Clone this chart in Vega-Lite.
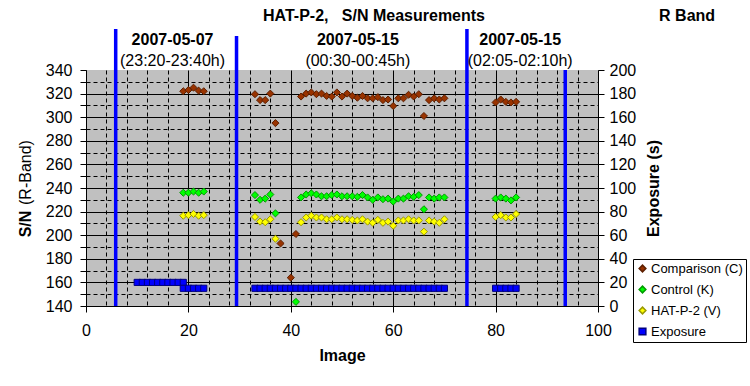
{
  "$schema": "https://vega.github.io/schema/vega-lite/v6.json",
  "width": 512,
  "height": 236,
  "autosize": {"type": "none"},
  "padding": {"left": 86, "top": 70, "right": 152, "bottom": 80},
  "background": "white",
  "config": {
    "font": "Liberation Sans",
    "view": {"fill": "#C0C0C0", "stroke": null},
    "axis": {
      "domainColor": "black", "tickColor": "black", "gridColor": "black",
      "labelFont": "Liberation Sans", "labelFontSize": 16, "labelColor": "black",
      "titleFont": "Liberation Sans", "titleFontSize": 16, "titleColor": "black", "titleFontWeight": "bold",
      "labelOverlap": false, "labelFlush": false
    },
    "text": {"font": "Liberation Sans", "fontSize": 16, "color": "black"}
  },
  "datasets": {
    "separators": [
      {"image": 5.8, "top": 374.7, "bottom": 140},
      {"image": 29.4, "top": 368.8, "bottom": 140},
      {"image": 74.4, "top": 374.7, "bottom": 140},
      {"image": 93.6, "top": 340, "bottom": 140}
    ],
    "labels": [
      {"image": 56.25, "value": 385.8, "text": "HAT-P-2,\u00a0\u00a0 S/N Measurements", "kind": "title"},
      {"image": 117.4, "value": 385.8, "text": "R Band", "kind": "title"},
      {"image": 16.9, "value": 365.4, "text": "2007-05-07", "kind": "date"},
      {"image": 16.9, "value": 347.6, "text": "(23:20-23:40h)", "kind": "time"},
      {"image": 53.1, "value": 365.4, "text": "2007-05-15", "kind": "date"},
      {"image": 53.1, "value": 347.6, "text": "(00:30-00:45h)", "kind": "time"},
      {"image": 84.8, "value": 365.4, "text": "2007-05-15", "kind": "date"},
      {"image": 84.8, "value": 347.6, "text": "(02:05-02:10h)", "kind": "time"},
      {"image": -11.7, "value": 209.5, "text": "S/N", "kind": "ytitle_bold"},
      {"image": -11.7, "value": 253.1, "text": "(R-Band)", "kind": "ytitle"}
    ],
    "measurements": [
      {"image": 19, "series": "Comparison (C)", "value": 322},
      {"image": 20, "series": "Comparison (C)", "value": 323},
      {"image": 21, "series": "Comparison (C)", "value": 325},
      {"image": 22, "series": "Comparison (C)", "value": 322.5},
      {"image": 23, "series": "Comparison (C)", "value": 322},
      {"image": 33, "series": "Comparison (C)", "value": 319.5},
      {"image": 34, "series": "Comparison (C)", "value": 314.5},
      {"image": 35, "series": "Comparison (C)", "value": 314.5},
      {"image": 36, "series": "Comparison (C)", "value": 320},
      {"image": 37, "series": "Comparison (C)", "value": 295},
      {"image": 38, "series": "Comparison (C)", "value": 193},
      {"image": 40, "series": "Comparison (C)", "value": 164},
      {"image": 41, "series": "Comparison (C)", "value": 201},
      {"image": 42, "series": "Comparison (C)", "value": 317.5},
      {"image": 43, "series": "Comparison (C)", "value": 320},
      {"image": 44, "series": "Comparison (C)", "value": 321},
      {"image": 45, "series": "Comparison (C)", "value": 319.5},
      {"image": 46, "series": "Comparison (C)", "value": 320},
      {"image": 47, "series": "Comparison (C)", "value": 318},
      {"image": 48, "series": "Comparison (C)", "value": 317.5},
      {"image": 49, "series": "Comparison (C)", "value": 321},
      {"image": 50, "series": "Comparison (C)", "value": 317.5},
      {"image": 51, "series": "Comparison (C)", "value": 320},
      {"image": 52, "series": "Comparison (C)", "value": 318},
      {"image": 53, "series": "Comparison (C)", "value": 316.5},
      {"image": 54, "series": "Comparison (C)", "value": 318},
      {"image": 55, "series": "Comparison (C)", "value": 316},
      {"image": 56, "series": "Comparison (C)", "value": 316},
      {"image": 57, "series": "Comparison (C)", "value": 317},
      {"image": 58, "series": "Comparison (C)", "value": 314.5},
      {"image": 59, "series": "Comparison (C)", "value": 315},
      {"image": 60, "series": "Comparison (C)", "value": 309.5},
      {"image": 61, "series": "Comparison (C)", "value": 316},
      {"image": 62, "series": "Comparison (C)", "value": 316},
      {"image": 63, "series": "Comparison (C)", "value": 319},
      {"image": 64, "series": "Comparison (C)", "value": 317.5},
      {"image": 65, "series": "Comparison (C)", "value": 319.5},
      {"image": 66, "series": "Comparison (C)", "value": 301},
      {"image": 67, "series": "Comparison (C)", "value": 314.5},
      {"image": 68, "series": "Comparison (C)", "value": 316},
      {"image": 69, "series": "Comparison (C)", "value": 315},
      {"image": 70, "series": "Comparison (C)", "value": 316},
      {"image": 80, "series": "Comparison (C)", "value": 312.5},
      {"image": 81, "series": "Comparison (C)", "value": 315},
      {"image": 82, "series": "Comparison (C)", "value": 313},
      {"image": 83, "series": "Comparison (C)", "value": 312.5},
      {"image": 84, "series": "Comparison (C)", "value": 313},
      {"image": 19, "series": "Control (K)", "value": 236},
      {"image": 20, "series": "Control (K)", "value": 236},
      {"image": 21, "series": "Control (K)", "value": 237},
      {"image": 22, "series": "Control (K)", "value": 236},
      {"image": 23, "series": "Control (K)", "value": 237},
      {"image": 33, "series": "Control (K)", "value": 234},
      {"image": 34, "series": "Control (K)", "value": 230},
      {"image": 35, "series": "Control (K)", "value": 231},
      {"image": 36, "series": "Control (K)", "value": 234.5},
      {"image": 37, "series": "Control (K)", "value": 218.5},
      {"image": 41, "series": "Control (K)", "value": 143.5},
      {"image": 42, "series": "Control (K)", "value": 232},
      {"image": 43, "series": "Control (K)", "value": 234.5},
      {"image": 44, "series": "Control (K)", "value": 235.5},
      {"image": 45, "series": "Control (K)", "value": 234.5},
      {"image": 46, "series": "Control (K)", "value": 233},
      {"image": 47, "series": "Control (K)", "value": 233},
      {"image": 48, "series": "Control (K)", "value": 234},
      {"image": 49, "series": "Control (K)", "value": 234.5},
      {"image": 50, "series": "Control (K)", "value": 233},
      {"image": 51, "series": "Control (K)", "value": 233},
      {"image": 52, "series": "Control (K)", "value": 233},
      {"image": 53, "series": "Control (K)", "value": 232.5},
      {"image": 54, "series": "Control (K)", "value": 234},
      {"image": 55, "series": "Control (K)", "value": 232},
      {"image": 56, "series": "Control (K)", "value": 230},
      {"image": 57, "series": "Control (K)", "value": 232},
      {"image": 58, "series": "Control (K)", "value": 230.5},
      {"image": 59, "series": "Control (K)", "value": 231},
      {"image": 60, "series": "Control (K)", "value": 228.5},
      {"image": 61, "series": "Control (K)", "value": 231},
      {"image": 62, "series": "Control (K)", "value": 231},
      {"image": 63, "series": "Control (K)", "value": 233},
      {"image": 64, "series": "Control (K)", "value": 232.5},
      {"image": 65, "series": "Control (K)", "value": 234},
      {"image": 66, "series": "Control (K)", "value": 222},
      {"image": 67, "series": "Control (K)", "value": 232},
      {"image": 68, "series": "Control (K)", "value": 231},
      {"image": 69, "series": "Control (K)", "value": 232},
      {"image": 70, "series": "Control (K)", "value": 232},
      {"image": 80, "series": "Control (K)", "value": 231},
      {"image": 81, "series": "Control (K)", "value": 232},
      {"image": 82, "series": "Control (K)", "value": 231},
      {"image": 83, "series": "Control (K)", "value": 229.5},
      {"image": 84, "series": "Control (K)", "value": 232},
      {"image": 19, "series": "HAT-P-2 (V)", "value": 216.5},
      {"image": 20, "series": "HAT-P-2 (V)", "value": 217},
      {"image": 21, "series": "HAT-P-2 (V)", "value": 218},
      {"image": 22, "series": "HAT-P-2 (V)", "value": 216.5},
      {"image": 23, "series": "HAT-P-2 (V)", "value": 217},
      {"image": 33, "series": "HAT-P-2 (V)", "value": 215.5},
      {"image": 34, "series": "HAT-P-2 (V)", "value": 211.5},
      {"image": 35, "series": "HAT-P-2 (V)", "value": 211},
      {"image": 36, "series": "HAT-P-2 (V)", "value": 213.5},
      {"image": 37, "series": "HAT-P-2 (V)", "value": 197},
      {"image": 42, "series": "HAT-P-2 (V)", "value": 211},
      {"image": 43, "series": "HAT-P-2 (V)", "value": 215},
      {"image": 44, "series": "HAT-P-2 (V)", "value": 216.5},
      {"image": 45, "series": "HAT-P-2 (V)", "value": 215},
      {"image": 46, "series": "HAT-P-2 (V)", "value": 215},
      {"image": 47, "series": "HAT-P-2 (V)", "value": 213.5},
      {"image": 48, "series": "HAT-P-2 (V)", "value": 213.5},
      {"image": 49, "series": "HAT-P-2 (V)", "value": 215},
      {"image": 50, "series": "HAT-P-2 (V)", "value": 213.5},
      {"image": 51, "series": "HAT-P-2 (V)", "value": 213.5},
      {"image": 52, "series": "HAT-P-2 (V)", "value": 213},
      {"image": 53, "series": "HAT-P-2 (V)", "value": 212.5},
      {"image": 54, "series": "HAT-P-2 (V)", "value": 213.5},
      {"image": 55, "series": "HAT-P-2 (V)", "value": 211.5},
      {"image": 56, "series": "HAT-P-2 (V)", "value": 210.5},
      {"image": 57, "series": "HAT-P-2 (V)", "value": 213},
      {"image": 58, "series": "HAT-P-2 (V)", "value": 210.5},
      {"image": 59, "series": "HAT-P-2 (V)", "value": 211.5},
      {"image": 60, "series": "HAT-P-2 (V)", "value": 208},
      {"image": 61, "series": "HAT-P-2 (V)", "value": 212.5},
      {"image": 62, "series": "HAT-P-2 (V)", "value": 212.5},
      {"image": 63, "series": "HAT-P-2 (V)", "value": 213.5},
      {"image": 64, "series": "HAT-P-2 (V)", "value": 212.5},
      {"image": 65, "series": "HAT-P-2 (V)", "value": 212.5},
      {"image": 66, "series": "HAT-P-2 (V)", "value": 203},
      {"image": 67, "series": "HAT-P-2 (V)", "value": 212.5},
      {"image": 68, "series": "HAT-P-2 (V)", "value": 211.5},
      {"image": 69, "series": "HAT-P-2 (V)", "value": 210.5},
      {"image": 70, "series": "HAT-P-2 (V)", "value": 213.5},
      {"image": 80, "series": "HAT-P-2 (V)", "value": 215.5},
      {"image": 81, "series": "HAT-P-2 (V)", "value": 217},
      {"image": 82, "series": "HAT-P-2 (V)", "value": 215},
      {"image": 83, "series": "HAT-P-2 (V)", "value": 215},
      {"image": 84, "series": "HAT-P-2 (V)", "value": 218},
      {"image": 10, "series": "Exposure", "value": 20},
      {"image": 11, "series": "Exposure", "value": 20},
      {"image": 12, "series": "Exposure", "value": 20},
      {"image": 13, "series": "Exposure", "value": 20},
      {"image": 14, "series": "Exposure", "value": 20},
      {"image": 15, "series": "Exposure", "value": 20},
      {"image": 16, "series": "Exposure", "value": 20},
      {"image": 17, "series": "Exposure", "value": 20},
      {"image": 18, "series": "Exposure", "value": 20},
      {"image": 19, "series": "Exposure", "value": 20},
      {"image": 19, "series": "Exposure", "value": 15},
      {"image": 20, "series": "Exposure", "value": 15},
      {"image": 21, "series": "Exposure", "value": 15},
      {"image": 22, "series": "Exposure", "value": 15},
      {"image": 23, "series": "Exposure", "value": 15},
      {"image": 33, "series": "Exposure", "value": 15},
      {"image": 34, "series": "Exposure", "value": 15},
      {"image": 35, "series": "Exposure", "value": 15},
      {"image": 36, "series": "Exposure", "value": 15},
      {"image": 37, "series": "Exposure", "value": 15},
      {"image": 38, "series": "Exposure", "value": 15},
      {"image": 39, "series": "Exposure", "value": 15},
      {"image": 40, "series": "Exposure", "value": 15},
      {"image": 41, "series": "Exposure", "value": 15},
      {"image": 42, "series": "Exposure", "value": 15},
      {"image": 43, "series": "Exposure", "value": 15},
      {"image": 44, "series": "Exposure", "value": 15},
      {"image": 45, "series": "Exposure", "value": 15},
      {"image": 46, "series": "Exposure", "value": 15},
      {"image": 47, "series": "Exposure", "value": 15},
      {"image": 48, "series": "Exposure", "value": 15},
      {"image": 49, "series": "Exposure", "value": 15},
      {"image": 50, "series": "Exposure", "value": 15},
      {"image": 51, "series": "Exposure", "value": 15},
      {"image": 52, "series": "Exposure", "value": 15},
      {"image": 53, "series": "Exposure", "value": 15},
      {"image": 54, "series": "Exposure", "value": 15},
      {"image": 55, "series": "Exposure", "value": 15},
      {"image": 56, "series": "Exposure", "value": 15},
      {"image": 57, "series": "Exposure", "value": 15},
      {"image": 58, "series": "Exposure", "value": 15},
      {"image": 59, "series": "Exposure", "value": 15},
      {"image": 60, "series": "Exposure", "value": 15},
      {"image": 61, "series": "Exposure", "value": 15},
      {"image": 62, "series": "Exposure", "value": 15},
      {"image": 63, "series": "Exposure", "value": 15},
      {"image": 64, "series": "Exposure", "value": 15},
      {"image": 65, "series": "Exposure", "value": 15},
      {"image": 66, "series": "Exposure", "value": 15},
      {"image": 67, "series": "Exposure", "value": 15},
      {"image": 68, "series": "Exposure", "value": 15},
      {"image": 69, "series": "Exposure", "value": 15},
      {"image": 70, "series": "Exposure", "value": 15},
      {"image": 80, "series": "Exposure", "value": 15},
      {"image": 81, "series": "Exposure", "value": 15},
      {"image": 82, "series": "Exposure", "value": 15},
      {"image": 83, "series": "Exposure", "value": 15},
      {"image": 84, "series": "Exposure", "value": 15}
    ]
  },
  "layer": [
    {
      "layer": [
        {
          "data": {"name": "measurements"},
          "transform": [{"filter": "datum.series !== 'Exposure'"}],
          "mark": {"type": "point", "filled": true, "size": 50, "strokeWidth": 1, "opacity": 1},
          "encoding": {
            "x": {"field": "image", "type": "quantitative", "scale": {"domain": [0, 100], "nice": false},
              "axis": {"values": [0, 4, 8, 12, 16, 20, 24, 28, 32, 36, 40, 44, 48, 52, 56, 60, 64, 68, 72, 76, 80, 84, 88, 92, 96, 100], "labelExpr": "datum.value % 20 === 0 ? datum.label : ''", "labelOverlap": false, "labelFlush": false, "grid": true, "gridDash": {"condition": {"test": "datum.value % 20 === 0", "value": []}, "value": [4, 3]}, "gridWidth": 1, "tickSize": 6, "tickOpacity": {"condition": {"test": "datum.value % 20 === 0", "value": 1}, "value": 0}, "labelPadding": 10, "title": "Image", "titlePadding": 9}},
            "y": {"field": "value", "type": "quantitative", "scale": {"domain": [140, 340], "nice": false},
              "axis": {"values": [140, 150, 160, 170, 180, 190, 200, 210, 220, 230, 240, 250, 260, 270, 280, 290, 300, 310, 320, 330, 340], "labelExpr": "datum.value % 20 === 0 ? datum.label : ''", "labelOverlap": false, "labelFlush": false, "grid": true, "gridDash": {"condition": {"test": "datum.value % 20 === 0", "value": []}, "value": [4, 3]}, "gridOpacity": {"condition": {"test": "datum.value >= 340", "value": 0}, "value": 1}, "gridWidth": 1, "tickSize": 6, "labelPadding": 8, "title": null}},
            "color": {
              "field": "series", "type": "nominal",
              "scale": {"domain": ["Comparison (C)", "Control (K)", "HAT-P-2 (V)", "Exposure"], "range": ["#993300", "#00FF00", "#FFFF00", "#0000FF"]},
              "legend": {"title": null, "orient": "none", "legendX": 547, "legendY": 189, "strokeColor": "black", "fillColor": "white", "padding": 3, "labelFont": "Liberation Sans", "labelFontSize": 13, "labelColor": "black", "rowPadding": 7, "symbolSize": 45, "labelOffset": 2, "cornerRadius": 0,
                "encode": {"symbols": {"update": {"stroke": {"value": "#333333"}, "strokeWidth": {"value": 1}}}}}
            },
            "shape": {
              "field": "series", "type": "nominal",
              "scale": {"domain": ["Comparison (C)", "Control (K)", "HAT-P-2 (V)", "Exposure"], "range": ["diamond", "diamond", "diamond", "square"]},
              "legend": {"title": null, "orient": "none", "legendX": 547, "legendY": 189, "strokeColor": "black", "fillColor": "white", "padding": 3, "labelFont": "Liberation Sans", "labelFontSize": 13, "labelColor": "black", "rowPadding": 7, "symbolSize": 45, "labelOffset": 2, "cornerRadius": 0,
                "encode": {"symbols": {"update": {"stroke": {"value": "#333333"}, "strokeWidth": {"value": 1}}}}}
            },
            "stroke": {
              "field": "series", "type": "nominal",
              "scale": {"domain": ["Comparison (C)", "Control (K)", "HAT-P-2 (V)", "Exposure"], "range": ["#5c1f00", "#009900", "#999900", "#000080"]},
              "legend": null
            }
          }
        },
        {
          "data": {"name": "separators"},
          "mark": {"type": "rule", "color": "#0000FF", "strokeWidth": 3.5},
          "encoding": {
            "x": {"field": "image", "type": "quantitative", "scale": {"domain": [0, 100], "nice": false},
              "axis": {"values": [0, 4, 8, 12, 16, 20, 24, 28, 32, 36, 40, 44, 48, 52, 56, 60, 64, 68, 72, 76, 80, 84, 88, 92, 96, 100], "labelExpr": "datum.value % 20 === 0 ? datum.label : ''", "labelOverlap": false, "labelFlush": false, "grid": true, "gridDash": {"condition": {"test": "datum.value % 20 === 0", "value": []}, "value": [4, 3]}, "gridWidth": 1, "tickSize": 6, "tickOpacity": {"condition": {"test": "datum.value % 20 === 0", "value": 1}, "value": 0}, "labelPadding": 10, "title": "Image", "titlePadding": 9}},
            "y": {"field": "top", "type": "quantitative", "scale": {"domain": [140, 340], "nice": false},
              "axis": {"values": [140, 150, 160, 170, 180, 190, 200, 210, 220, 230, 240, 250, 260, 270, 280, 290, 300, 310, 320, 330, 340], "labelExpr": "datum.value % 20 === 0 ? datum.label : ''", "labelOverlap": false, "labelFlush": false, "grid": true, "gridDash": {"condition": {"test": "datum.value % 20 === 0", "value": []}, "value": [4, 3]}, "gridOpacity": {"condition": {"test": "datum.value >= 340", "value": 0}, "value": 1}, "gridWidth": 1, "tickSize": 6, "labelPadding": 8, "title": null}},
            "y2": {"field": "bottom"}
          }
        },
        {
          "data": {"name": "labels"},
          "transform": [{"filter": "datum.kind === 'title' || datum.kind === 'date'"}],
          "mark": {"type": "text", "fontWeight": "bold", "align": "center", "baseline": "middle"},
          "encoding": {
            "x": {"field": "image", "type": "quantitative", "scale": {"domain": [0, 100], "nice": false},
              "axis": {"values": [0, 4, 8, 12, 16, 20, 24, 28, 32, 36, 40, 44, 48, 52, 56, 60, 64, 68, 72, 76, 80, 84, 88, 92, 96, 100], "labelExpr": "datum.value % 20 === 0 ? datum.label : ''", "labelOverlap": false, "labelFlush": false, "grid": true, "gridDash": {"condition": {"test": "datum.value % 20 === 0", "value": []}, "value": [4, 3]}, "gridWidth": 1, "tickSize": 6, "tickOpacity": {"condition": {"test": "datum.value % 20 === 0", "value": 1}, "value": 0}, "labelPadding": 10, "title": "Image", "titlePadding": 9}},
            "y": {"field": "value", "type": "quantitative", "scale": {"domain": [140, 340], "nice": false},
              "axis": {"values": [140, 150, 160, 170, 180, 190, 200, 210, 220, 230, 240, 250, 260, 270, 280, 290, 300, 310, 320, 330, 340], "labelExpr": "datum.value % 20 === 0 ? datum.label : ''", "labelOverlap": false, "labelFlush": false, "grid": true, "gridDash": {"condition": {"test": "datum.value % 20 === 0", "value": []}, "value": [4, 3]}, "gridOpacity": {"condition": {"test": "datum.value >= 340", "value": 0}, "value": 1}, "gridWidth": 1, "tickSize": 6, "labelPadding": 8, "title": null}},
            "text": {"field": "text"}
          }
        },
        {
          "data": {"name": "labels"},
          "transform": [{"filter": "datum.kind === 'time'"}],
          "mark": {"type": "text", "fontWeight": "normal", "align": "center", "baseline": "middle"},
          "encoding": {
            "x": {"field": "image", "type": "quantitative", "scale": {"domain": [0, 100], "nice": false},
              "axis": {"values": [0, 4, 8, 12, 16, 20, 24, 28, 32, 36, 40, 44, 48, 52, 56, 60, 64, 68, 72, 76, 80, 84, 88, 92, 96, 100], "labelExpr": "datum.value % 20 === 0 ? datum.label : ''", "labelOverlap": false, "labelFlush": false, "grid": true, "gridDash": {"condition": {"test": "datum.value % 20 === 0", "value": []}, "value": [4, 3]}, "gridWidth": 1, "tickSize": 6, "tickOpacity": {"condition": {"test": "datum.value % 20 === 0", "value": 1}, "value": 0}, "labelPadding": 10, "title": "Image", "titlePadding": 9}},
            "y": {"field": "value", "type": "quantitative", "scale": {"domain": [140, 340], "nice": false},
              "axis": {"values": [140, 150, 160, 170, 180, 190, 200, 210, 220, 230, 240, 250, 260, 270, 280, 290, 300, 310, 320, 330, 340], "labelExpr": "datum.value % 20 === 0 ? datum.label : ''", "labelOverlap": false, "labelFlush": false, "grid": true, "gridDash": {"condition": {"test": "datum.value % 20 === 0", "value": []}, "value": [4, 3]}, "gridOpacity": {"condition": {"test": "datum.value >= 340", "value": 0}, "value": 1}, "gridWidth": 1, "tickSize": 6, "labelPadding": 8, "title": null}},
            "text": {"field": "text"}
          }
        },
        {
          "data": {"name": "labels"},
          "transform": [{"filter": "datum.kind === 'ytitle_bold'"}],
          "mark": {"type": "text", "fontWeight": "bold", "align": "center", "baseline": "middle", "angle": 270},
          "encoding": {
            "x": {"field": "image", "type": "quantitative", "scale": {"domain": [0, 100], "nice": false},
              "axis": {"values": [0, 4, 8, 12, 16, 20, 24, 28, 32, 36, 40, 44, 48, 52, 56, 60, 64, 68, 72, 76, 80, 84, 88, 92, 96, 100], "labelExpr": "datum.value % 20 === 0 ? datum.label : ''", "labelOverlap": false, "labelFlush": false, "grid": true, "gridDash": {"condition": {"test": "datum.value % 20 === 0", "value": []}, "value": [4, 3]}, "gridWidth": 1, "tickSize": 6, "tickOpacity": {"condition": {"test": "datum.value % 20 === 0", "value": 1}, "value": 0}, "labelPadding": 10, "title": "Image", "titlePadding": 9}},
            "y": {"field": "value", "type": "quantitative", "scale": {"domain": [140, 340], "nice": false},
              "axis": {"values": [140, 150, 160, 170, 180, 190, 200, 210, 220, 230, 240, 250, 260, 270, 280, 290, 300, 310, 320, 330, 340], "labelExpr": "datum.value % 20 === 0 ? datum.label : ''", "labelOverlap": false, "labelFlush": false, "grid": true, "gridDash": {"condition": {"test": "datum.value % 20 === 0", "value": []}, "value": [4, 3]}, "gridOpacity": {"condition": {"test": "datum.value >= 340", "value": 0}, "value": 1}, "gridWidth": 1, "tickSize": 6, "labelPadding": 8, "title": null}},
            "text": {"field": "text"}
          }
        },
        {
          "data": {"name": "labels"},
          "transform": [{"filter": "datum.kind === 'ytitle'"}],
          "mark": {"type": "text", "fontWeight": "normal", "align": "center", "baseline": "middle", "angle": 270},
          "encoding": {
            "x": {"field": "image", "type": "quantitative", "scale": {"domain": [0, 100], "nice": false},
              "axis": {"values": [0, 4, 8, 12, 16, 20, 24, 28, 32, 36, 40, 44, 48, 52, 56, 60, 64, 68, 72, 76, 80, 84, 88, 92, 96, 100], "labelExpr": "datum.value % 20 === 0 ? datum.label : ''", "labelOverlap": false, "labelFlush": false, "grid": true, "gridDash": {"condition": {"test": "datum.value % 20 === 0", "value": []}, "value": [4, 3]}, "gridWidth": 1, "tickSize": 6, "tickOpacity": {"condition": {"test": "datum.value % 20 === 0", "value": 1}, "value": 0}, "labelPadding": 10, "title": "Image", "titlePadding": 9}},
            "y": {"field": "value", "type": "quantitative", "scale": {"domain": [140, 340], "nice": false},
              "axis": {"values": [140, 150, 160, 170, 180, 190, 200, 210, 220, 230, 240, 250, 260, 270, 280, 290, 300, 310, 320, 330, 340], "labelExpr": "datum.value % 20 === 0 ? datum.label : ''", "labelOverlap": false, "labelFlush": false, "grid": true, "gridDash": {"condition": {"test": "datum.value % 20 === 0", "value": []}, "value": [4, 3]}, "gridOpacity": {"condition": {"test": "datum.value >= 340", "value": 0}, "value": 1}, "gridWidth": 1, "tickSize": 6, "labelPadding": 8, "title": null}},
            "text": {"field": "text"}
          }
        }
      ]
    },
    {
      "data": {"name": "measurements"},
      "transform": [{"filter": "datum.series === 'Exposure'"}],
      "mark": {"type": "point", "filled": true, "size": 38, "strokeWidth": 1, "opacity": 1},
      "encoding": {
        "x": {"field": "image", "type": "quantitative", "scale": {"domain": [0, 100], "nice": false},
          "axis": {"values": [0, 4, 8, 12, 16, 20, 24, 28, 32, 36, 40, 44, 48, 52, 56, 60, 64, 68, 72, 76, 80, 84, 88, 92, 96, 100], "labelExpr": "datum.value % 20 === 0 ? datum.label : ''", "labelOverlap": false, "labelFlush": false, "grid": true, "gridDash": {"condition": {"test": "datum.value % 20 === 0", "value": []}, "value": [4, 3]}, "gridWidth": 1, "tickSize": 6, "tickOpacity": {"condition": {"test": "datum.value % 20 === 0", "value": 1}, "value": 0}, "labelPadding": 10, "title": "Image", "titlePadding": 9}},
        "y": {
          "field": "value", "type": "quantitative", "scale": {"domain": [0, 200], "nice": false},
          "axis": {"orient": "right", "values": [0, 20, 40, 60, 80, 100, 120, 140, 160, 180, 200], "labelOverlap": false, "labelFlush": false, "grid": false, "tickSize": 6, "labelPadding": 5, "title": "Exposure (s)", "titleAngle": 270, "titleBaseline": "top", "titlePadding": 10}
        },
        "color": {
          "field": "series", "type": "nominal",
          "scale": {"domain": ["Comparison (C)", "Control (K)", "HAT-P-2 (V)", "Exposure"], "range": ["#993300", "#00FF00", "#FFFF00", "#0000FF"]},
          "legend": {"title": null, "orient": "none", "legendX": 547, "legendY": 189, "strokeColor": "black", "fillColor": "white", "padding": 3, "labelFont": "Liberation Sans", "labelFontSize": 13, "labelColor": "black", "rowPadding": 7, "symbolSize": 45, "labelOffset": 2, "cornerRadius": 0,
            "encode": {"symbols": {"update": {"stroke": {"value": "#333333"}, "strokeWidth": {"value": 1}}}}}
        },
        "shape": {
          "field": "series", "type": "nominal",
          "scale": {"domain": ["Comparison (C)", "Control (K)", "HAT-P-2 (V)", "Exposure"], "range": ["diamond", "diamond", "diamond", "square"]},
          "legend": {"title": null, "orient": "none", "legendX": 547, "legendY": 189, "strokeColor": "black", "fillColor": "white", "padding": 3, "labelFont": "Liberation Sans", "labelFontSize": 13, "labelColor": "black", "rowPadding": 7, "symbolSize": 45, "labelOffset": 2, "cornerRadius": 0,
            "encode": {"symbols": {"update": {"stroke": {"value": "#333333"}, "strokeWidth": {"value": 1}}}}}
        },
        "stroke": {
          "field": "series", "type": "nominal",
          "scale": {"domain": ["Comparison (C)", "Control (K)", "HAT-P-2 (V)", "Exposure"], "range": ["#5c1f00", "#009900", "#999900", "#000080"]},
          "legend": null
        }
      }
    }
  ],
  "resolve": {"scale": {"y": "independent"}}
}
